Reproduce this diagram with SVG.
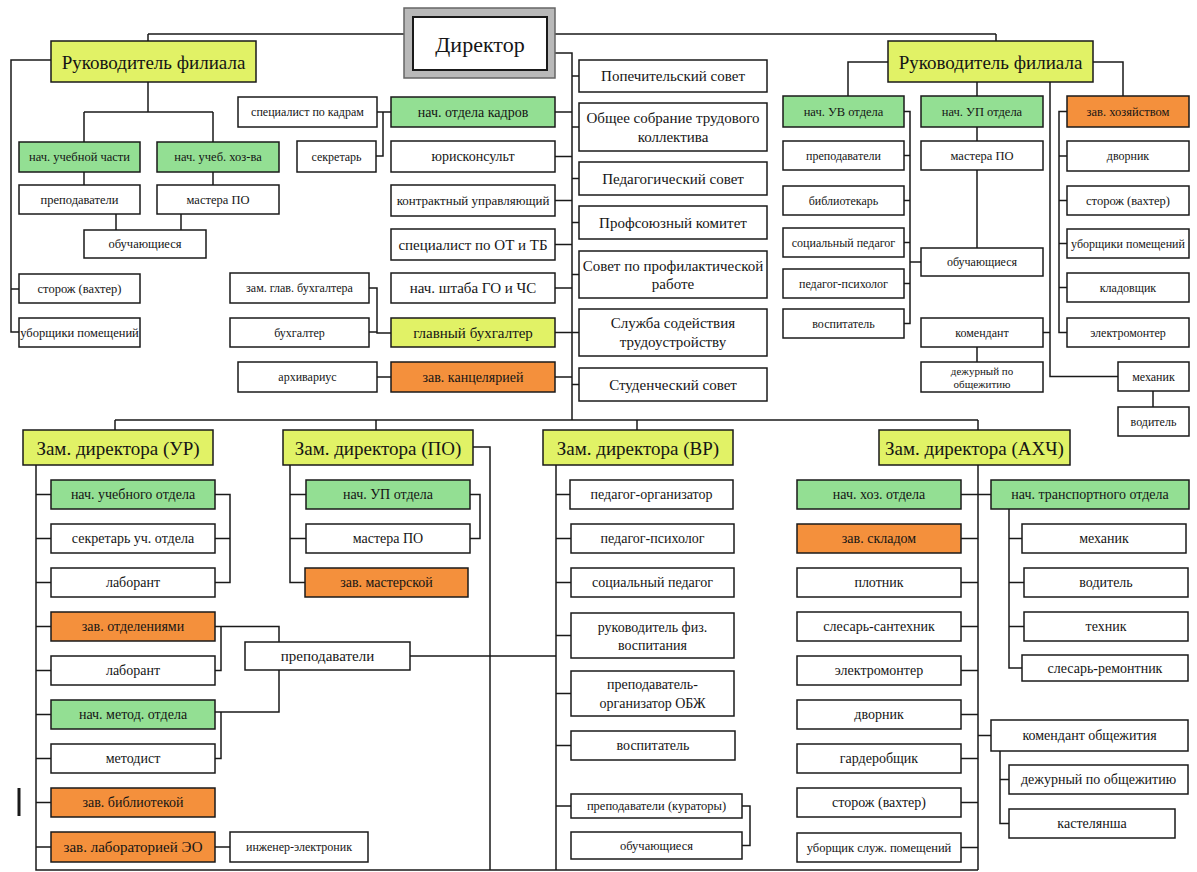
<svg xmlns="http://www.w3.org/2000/svg" width="1197" height="872" viewBox="0 0 1197 872" font-family="'Liberation Serif', 'DejaVu Serif', serif">
<style>
rect{stroke:#1a1a1a;stroke-width:1.5;fill:#fff}
.y{fill:#e1f266}
.g{fill:#93df93}
.o{fill:#f4903c}
text{font-family:'Liberation Serif','DejaVu Serif',serif;fill:#151515;text-anchor:middle;dominant-baseline:central;font-size:14px}
.f23{font-size:22px}
.f19{font-size:19px}
.f14{font-size:15px}
.f12{font-size:12.5px}
.f11{font-size:12px}
.f10{font-size:11px}
#connectors path{fill:none;stroke:#1a1a1a;stroke-width:1.5}
</style>
<g id="connectors">
<path d="M148,34 H996 M148,34 V41 M996,34 V41"/>
<path d="M51,60 H11 V332 H19 M11,289 H19"/>
<path d="M148,82 V112 M84,112 H213 M84,112 V142 M213,112 V142 M84,172 V185 M213,172 V185 M116,214 V230 M181,214 V230"/>
<path d="M391,112 H377 M383,112 V156 H376"/>
<path d="M369,288 H377 V333 H391 M369,332 H377 M377,377 H391"/>
<path d="M555,53 H572 V420 M555,112 H572 M555,156.5 H572 M555,200.5 H572 M555,244.5 H572 M555,288 H572 M555,332.5 H572 M555,377 H572"/>
<path d="M572,76 H579 M572,127 H579 M572,178.5 H579 M572,222.5 H579 M572,274.5 H579 M572,332.5 H579 M572,384.5 H579"/>
<path d="M115,420 H978 M115,420 V430 M376,420 V430 M637,420 V430 M978,420 V430"/>
<path d="M36,465 V870 H978 M36,494.5 H51 M36,538.5 H51 M36,582.5 H51 M36,626.5 H51 M36,670.5 H51 M36,714.5 H51 M36,758.5 H51 M36,802.5 H51 M36,847 H51"/>
<path d="M215,494.5 H230 V582.5 H215 M215,538.5 H230 M215,847 H230"/>
<path d="M215,626.5 H279 V642 M221,626.5 V670.5 H215 M279,670 V712 H215 M221,712 V758.5 H215 M410,656 H556"/>
<path d="M473,447 H490 V870 M290,465 V582.5 H305 M290,494.5 H306 M290,538.5 H306 M470,494.5 H480 V538.5 H470"/>
<path d="M556,465 V870 M556,494.5 H570 M556,538.5 H571 M556,582.5 H571 M556,635.5 H571 M556,693.5 H571 M556,745.5 H571 M556,806 H571 M742,806 H750 V845.5 H742"/>
<path d="M978,465 V870 M961,494.5 H991 M961,538.5 H978 M961,582.5 H978 M961,626.5 H978 M961,670.5 H978 M961,714.5 H978 M961,758.5 H978 M961,802.5 H978 M961,847.5 H978"/>
<path d="M1009,509 V668 H1022 M1009,538.5 H1022 M1009,582.5 H1024 M1009,626.5 H1024 M978,735.5 H991 M1000,751 V823.5 H1009 M1000,779.5 H1009"/>
<path d="M888,62 H848 V96 M1093,62 H1123 V96 M977,82 V96 M1050,82 V376.5 H1118"/>
<path d="M904,111.5 H910 V323.5 H904 M910,155.5 H904 M910,200.5 H904 M910,242.5 H904 M910,283.5 H904 M910,262 H921"/>
<path d="M977,127 V141 M977,170 V248 M977,347 V362 M1043,332.5 H1050"/>
<path d="M1067,111.5 H1059 V332.5 H1067 M1059,156 H1067 M1059,200.5 H1067 M1059,243.5 H1067 M1059,287.5 H1067 M1153,391 V407"/>
<path d="M19,788 V816" style="stroke-width:3"/>
</g>
<g id="director"><rect x="404" y="8" width="151" height="70" style="fill:#b9b9b9;stroke:#666"/><rect x="413" y="17" width="134" height="53" style="stroke-width:2"/><text x="480" y="44" class="f23">Директор</text></g>
<g id="rf1"><rect x="51" y="41" width="205" height="41" class="y"/><text x="153.5" y="62" class="f19">Руководитель филиала</text></g>
<g id="rf2"><rect x="888" y="41" width="205" height="41" class="y"/><text x="990.5" y="62" class="f19">Руководитель филиала</text></g>
<g id="l1"><rect x="19" y="142" width="121" height="30" class="g"/><text x="79.5" y="157" class="f12">нач. учебной части</text></g>
<g id="l2"><rect x="157" y="142" width="122" height="30" class="g"/><text x="218" y="157" class="f12">нач. учеб. хоз-ва</text></g>
<g id="l3"><rect x="19" y="185" width="121" height="29"/><text x="79.5" y="199.5" class="f12">преподаватели</text></g>
<g id="l4"><rect x="157" y="185" width="122" height="29"/><text x="218" y="199.5" class="f12">мастера ПО</text></g>
<g id="l5"><rect x="84" y="230" width="122" height="28"/><text x="145" y="244" class="f12">обучающиеся</text></g>
<g id="l6"><rect x="19" y="274" width="121" height="29"/><text x="79.5" y="288.5" class="f12">сторож (вахтер)</text></g>
<g id="l7"><rect x="19" y="318" width="121" height="29"/><text x="79.5" y="332.5" class="f12">уборщики помещений</text></g>
<g id="kadr"><rect x="391" y="97" width="164" height="30" class="g"/><text x="473" y="112">нач. отдела кадров</text></g>
<g id="yur"><rect x="391" y="141" width="164" height="31"/><text x="473" y="156.5">юрисконсульт</text></g>
<g id="kontr"><rect x="391" y="185" width="164" height="31"/><text x="473" y="200.5" style="font-size:13px">контрактный управляющий</text></g>
<g id="ot"><rect x="391" y="229" width="164" height="31"/><text x="473" y="244.5" class="f14">специалист по ОТ и ТБ</text></g>
<g id="go"><rect x="391" y="273" width="164" height="30"/><text x="473" y="288" class="f14">нач. штаба ГО и ЧС</text></g>
<g id="gb"><rect x="391" y="318" width="164" height="29" class="y"/><text x="473" y="332.5" class="f14">главный бухгалтер</text></g>
<g id="kanc"><rect x="391" y="362" width="164" height="30" class="o"/><text x="473" y="377">зав. канцелярией</text></g>
<g id="spk"><rect x="238" y="97" width="139" height="30"/><text x="307.5" y="112" class="f11">специалист по кадрам</text></g>
<g id="sek"><rect x="297" y="141" width="79" height="31"/><text x="336.5" y="156.5" class="f11">секретарь</text></g>
<g id="zgb"><rect x="230" y="273" width="139" height="30"/><text x="299.5" y="288" class="f11">зам. глав. бухгалтера</text></g>
<g id="buh"><rect x="230" y="318" width="139" height="29"/><text x="299.5" y="332.5" class="f11">бухгалтер</text></g>
<g id="arh"><rect x="238" y="362" width="139" height="30"/><text x="307.5" y="377" class="f11">архивариус</text></g>
<g id="pop"><rect x="579" y="60" width="188" height="32"/><text x="673" y="76" class="f14">Попечительский совет</text></g>
<g id="obs"><rect x="579" y="103" width="188" height="48"/><text x="673" y="118" class="f14">Общее собрание трудового</text><text x="673" y="137" class="f14">коллектива</text></g>
<g id="ped"><rect x="579" y="162" width="188" height="33"/><text x="673" y="178.5" class="f14">Педагогический совет</text></g>
<g id="prof"><rect x="579" y="206" width="188" height="33"/><text x="673" y="222.5" class="f14">Профсоюзный комитет</text></g>
<g id="sov"><rect x="579" y="251" width="188" height="47"/><text x="673" y="266" class="f14">Совет по профилактической</text><text x="673" y="284" class="f14">работе</text></g>
<g id="sl"><rect x="579" y="309" width="188" height="47"/><text x="673" y="323" class="f14">Служба содействия</text><text x="673" y="342" class="f14">трудоустройству</text></g>
<g id="stud"><rect x="579" y="368" width="188" height="33"/><text x="673" y="384.5" class="f14">Студенческий совет</text></g>
<g id="zur"><rect x="23" y="430" width="190" height="35" class="y"/><text x="118" y="448" class="f19">Зам. директора (УР)</text></g>
<g id="zpo"><rect x="283" y="430" width="190" height="35" class="y"/><text x="378" y="448" class="f19">Зам. директора (ПО)</text></g>
<g id="zvr"><rect x="543" y="430" width="190" height="35" class="y"/><text x="638" y="448" class="f19">Зам. директора (ВР)</text></g>
<g id="zax"><rect x="879" y="430" width="191" height="35" class="y"/><text x="974.5" y="448" class="f19">Зам. директора (АХЧ)</text></g>
<g id="ur1"><rect x="51" y="480" width="164" height="29" class="g"/><text x="133" y="494.5">нач. учебного отдела</text></g>
<g id="ur2"><rect x="51" y="524" width="164" height="29"/><text x="133" y="538.5">секретарь уч. отдела</text></g>
<g id="ur3"><rect x="51" y="568" width="164" height="29"/><text x="133" y="582.5">лаборант</text></g>
<g id="ur4"><rect x="51" y="612" width="164" height="29" class="o"/><text x="133" y="626.5">зав. отделениями</text></g>
<g id="ur5"><rect x="51" y="656" width="164" height="29"/><text x="133" y="670.5">лаборант</text></g>
<g id="ur6"><rect x="51" y="700" width="164" height="29" class="g"/><text x="133" y="714.5">нач. метод. отдела</text></g>
<g id="ur7"><rect x="51" y="744" width="164" height="29"/><text x="133" y="758.5">методист</text></g>
<g id="ur8"><rect x="51" y="788" width="164" height="29" class="o"/><text x="133" y="802.5">зав. библиотекой</text></g>
<g id="ur9"><rect x="51" y="832" width="164" height="30" class="o"/><text x="133" y="847" class="f14">зав. лабораторией ЭО</text></g>
<g id="ing"><rect x="230" y="832" width="138" height="30"/><text x="299" y="847" class="f11">инженер-электроник</text></g>
<g id="prep"><rect x="245" y="642" width="165" height="28"/><text x="327.5" y="656" class="f14">преподаватели</text></g>
<g id="po1"><rect x="306" y="480" width="164" height="29" class="g"/><text x="388" y="494.5">нач. УП отдела</text></g>
<g id="po2"><rect x="306" y="524" width="164" height="29"/><text x="388" y="538.5">мастера ПО</text></g>
<g id="po3"><rect x="305" y="568" width="163" height="29" class="o"/><text x="386.5" y="582.5">зав. мастерской</text></g>
<g id="vr1"><rect x="570" y="480" width="163" height="29"/><text x="651.5" y="494.5">педагог-организатор</text></g>
<g id="vr2"><rect x="571" y="524" width="163" height="29"/><text x="652.5" y="538.5">педагог-психолог</text></g>
<g id="vr3"><rect x="571" y="568" width="163" height="29"/><text x="652.5" y="582.5">социальный педагог</text></g>
<g id="vr4"><rect x="571" y="613" width="163" height="45"/><text x="652.5" y="627">руководитель физ.</text><text x="652.5" y="645">воспитания</text></g>
<g id="vr5"><rect x="571" y="671" width="163" height="45"/><text x="652.5" y="684">преподаватель-</text><text x="652.5" y="703">организатор ОБЖ</text></g>
<g id="vr6"><rect x="571" y="731" width="164" height="29"/><text x="653" y="745.5">воспитатель</text></g>
<g id="vr7"><rect x="571" y="794" width="171" height="24"/><text x="656.5" y="806" class="f12">преподаватели (кураторы)</text></g>
<g id="vr8"><rect x="571" y="832" width="171" height="27"/><text x="656.5" y="845.5" class="f12">обучающиеся</text></g>
<g id="ax1"><rect x="797" y="480" width="164" height="29" class="g"/><text x="879" y="494.5">нач. хоз. отдела</text></g>
<g id="ax2"><rect x="797" y="524" width="164" height="29" class="o"/><text x="879" y="538.5">зав. складом</text></g>
<g id="ax3"><rect x="797" y="568" width="164" height="29"/><text x="879" y="582.5">плотник</text></g>
<g id="ax4"><rect x="797" y="612" width="164" height="29"/><text x="879" y="626.5">слесарь-сантехник</text></g>
<g id="ax5"><rect x="797" y="656" width="164" height="29"/><text x="879" y="670.5">электромонтер</text></g>
<g id="ax6"><rect x="797" y="700" width="164" height="29"/><text x="879" y="714.5">дворник</text></g>
<g id="ax7"><rect x="797" y="744" width="164" height="29"/><text x="879" y="758.5">гардеробщик</text></g>
<g id="ax8"><rect x="797" y="788" width="164" height="29"/><text x="879" y="802.5">сторож (вахтер)</text></g>
<g id="ax9"><rect x="797" y="833" width="164" height="29"/><text x="879" y="847.5" class="f12">уборщик служ. помещений</text></g>
<g id="tr"><rect x="991" y="480" width="198" height="29" class="g"/><text x="1090" y="494.5">нач. транспортного отдела</text></g>
<g id="tr1"><rect x="1022" y="524" width="164" height="29"/><text x="1104" y="538.5">механик</text></g>
<g id="tr2"><rect x="1024" y="568" width="164" height="29"/><text x="1106" y="582.5">водитель</text></g>
<g id="tr3"><rect x="1024" y="612" width="164" height="29"/><text x="1106" y="626.5">техник</text></g>
<g id="tr4"><rect x="1022" y="655" width="166" height="26"/><text x="1105" y="668">слесарь-ремонтник</text></g>
<g id="kom"><rect x="991" y="720" width="197" height="31"/><text x="1089.5" y="735.5">комендант общежития</text></g>
<g id="k1"><rect x="1009" y="765" width="179" height="29"/><text x="1098.5" y="779.5">дежурный по общежитию</text></g>
<g id="k2"><rect x="1009" y="809" width="166" height="29"/><text x="1092" y="823.5">кастелянша</text></g>
<g id="uv"><rect x="783" y="96" width="121" height="31" class="g"/><text x="843.5" y="111.5" class="f12">нач. УВ отдела</text></g>
<g id="up"><rect x="921" y="96" width="122" height="31" class="g"/><text x="982" y="111.5" class="f12">нач. УП отдела</text></g>
<g id="zx"><rect x="1067" y="96" width="122" height="31" class="o"/><text x="1128" y="111.5" class="f12">зав. хозяйством</text></g>
<g id="uv1"><rect x="783" y="141" width="121" height="29"/><text x="843.5" y="155.5" class="f11">преподаватели</text></g>
<g id="uv2"><rect x="783" y="186" width="121" height="29"/><text x="843.5" y="200.5" class="f11">библиотекарь</text></g>
<g id="uv3"><rect x="783" y="228" width="121" height="29"/><text x="843.5" y="242.5" class="f11">социальный педагог</text></g>
<g id="uv4"><rect x="783" y="269" width="121" height="29"/><text x="843.5" y="283.5" class="f11">педагог-психолог</text></g>
<g id="uv5"><rect x="783" y="309" width="121" height="29"/><text x="843.5" y="323.5" class="f11">воспитатель</text></g>
<g id="up1"><rect x="921" y="141" width="122" height="29"/><text x="982" y="155.5" class="f12">мастера ПО</text></g>
<g id="up2"><rect x="921" y="248" width="122" height="28"/><text x="982" y="262" class="f11">обучающиеся</text></g>
<g id="up3"><rect x="921" y="318" width="122" height="29"/><text x="982" y="332.5" class="f11">комендант</text></g>
<g id="up4"><rect x="921" y="362" width="122" height="30"/><text x="982" y="371" class="f10">дежурный по</text><text x="982" y="384" class="f10">общежитию</text></g>
<g id="zx1"><rect x="1067" y="141" width="122" height="30"/><text x="1128" y="156" class="f11">дворник</text></g>
<g id="zx2"><rect x="1067" y="186" width="122" height="29"/><text x="1128" y="200.5" class="f12">сторож (вахтер)</text></g>
<g id="zx3"><rect x="1067" y="229" width="122" height="29"/><text x="1128" y="243.5" class="f11">уборщики помещений</text></g>
<g id="zx4"><rect x="1067" y="273" width="122" height="29"/><text x="1128" y="287.5" class="f11">кладовщик</text></g>
<g id="zx5"><rect x="1067" y="318" width="122" height="29"/><text x="1128" y="332.5" class="f11">электромонтер</text></g>
<g id="mex"><rect x="1118" y="362" width="71" height="29"/><text x="1153.5" y="376.5" class="f11">механик</text></g>
<g id="vod"><rect x="1118" y="407" width="71" height="29"/><text x="1153.5" y="421.5" class="f11">водитель</text></g>
</svg>
